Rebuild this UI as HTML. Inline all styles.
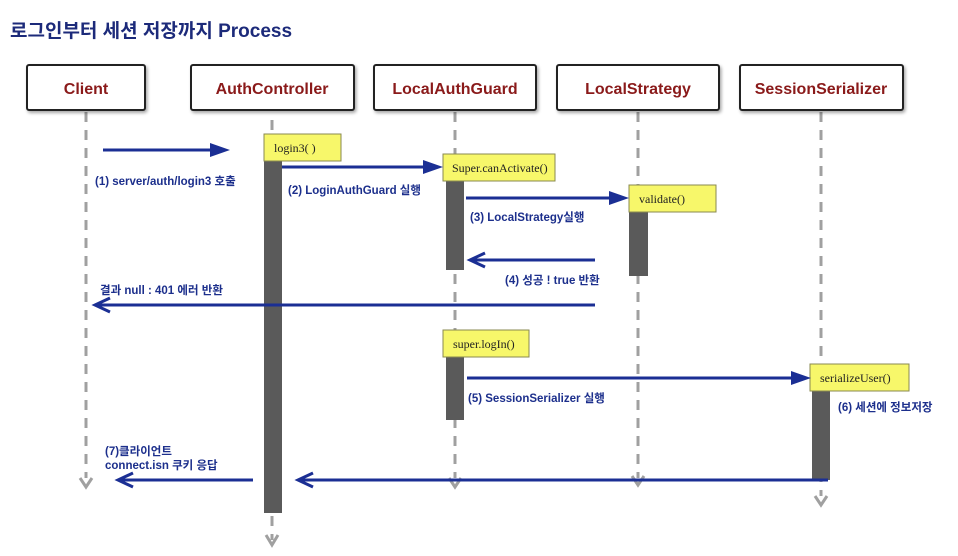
<!DOCTYPE html>
<html><head><meta charset="utf-8"><style>
html,body{margin:0;padding:0;background:#fff;}
svg{display:block;}
text{font-family:"Liberation Sans","Noto Sans CJK KR",sans-serif;}
.lbl{font-size:11.5px;font-weight:bold;fill:#1c2f8c;}
.box{fill:#fff;stroke:#222;stroke-width:2;}
.hd{font-size:16px;font-weight:bold;fill:#8a1a1a;text-anchor:middle;}
.life{stroke:#a0a0a0;stroke-width:3;stroke-dasharray:10,8;fill:none;}
.bar{fill:#5a5a5a;}
.note{fill:#f7f76a;stroke:#8a8a50;stroke-width:1;}
.nt{font-family:"Liberation Serif",serif;font-size:12px;fill:#222;}
.ar{stroke:#1b2f94;stroke-width:3;fill:none;}
</style></head><body>
<svg width="958" height="556" viewBox="0 0 958 556" xmlns="http://www.w3.org/2000/svg">
<defs>
<filter id="sh" x="-10%" y="-10%" width="130%" height="140%"><feDropShadow dx="1.5" dy="2" stdDeviation="1.5" flood-color="#000" flood-opacity="0.35"/></filter>
</defs>
<text x="10" y="37" style="font-size:19px;font-weight:bold;fill:#1c2a7a;">로그인부터 세션 저장까지 Process</text>

<line class="life" x1="86" y1="112" x2="86" y2="478"/>
<line class="life" x1="272" y1="120" x2="272" y2="540"/>
<line class="life" x1="455" y1="112" x2="455" y2="478"/>
<line class="life" x1="638" y1="112" x2="638" y2="478"/>
<line class="life" x1="821" y1="112" x2="821" y2="496"/>
<g stroke="#a0a0a0" stroke-width="3" fill="none">
<polyline points="80,478 86,487 92,478"/>
<polyline points="266,535 272,545 278,535"/>
<polyline points="449,478 455,487 461,478"/>
<polyline points="632,476 638,485 644,476"/>
<polyline points="815,496 821,505 827,496"/>
</g>

<g filter="url(#sh)">
<rect class="box" x="27" y="65" width="118" height="45" rx="2"/>
<rect class="box" x="191" y="65" width="163" height="45" rx="2"/>
<rect class="box" x="374" y="65" width="162" height="45" rx="2"/>
<rect class="box" x="557" y="65" width="162" height="45" rx="2"/>
<rect class="box" x="740" y="65" width="163" height="45" rx="2"/>
</g>
<text class="hd" x="86" y="94">Client</text>
<text class="hd" x="272" y="94">AuthController</text>
<text class="hd" x="455" y="94">LocalAuthGuard</text>
<text class="hd" x="638" y="94">LocalStrategy</text>
<text class="hd" x="821" y="94">SessionSerializer</text>

<rect class="bar" x="264" y="150" width="18" height="363"/>
<rect class="bar" x="446" y="170" width="18" height="100"/>
<rect class="bar" x="629" y="200" width="19" height="76"/>
<rect class="bar" x="446" y="345" width="18" height="75"/>
<rect class="bar" x="812" y="380" width="18" height="100"/>

<rect class="note" x="264" y="134" width="77" height="27"/>
<text class="nt" x="274" y="152">login3( )</text>
<rect class="note" x="443" y="154" width="112" height="27"/>
<text class="nt" x="452" y="172">Super.canActivate()</text>
<rect class="note" x="629" y="185" width="87" height="27"/>
<text class="nt" x="639" y="203">validate()</text>
<rect class="note" x="443" y="330" width="86" height="27"/>
<text class="nt" x="453" y="348">super.logIn()</text>
<rect class="note" x="810" y="364" width="99" height="27"/>
<text class="nt" x="820" y="382">serializeUser()</text>

<line class="ar" x1="103" y1="150" x2="212" y2="150"/>
<polygon points="210,143 230,150 210,157" fill="#1b2f94"/>
<line class="ar" x1="282" y1="167" x2="425" y2="167"/>
<polygon points="423,160 443,167 423,174" fill="#1b2f94"/>
<line class="ar" x1="466" y1="198" x2="611" y2="198"/>
<polygon points="609,191 629,198 609,205" fill="#1b2f94"/>
<line class="ar" x1="595" y1="260" x2="472" y2="260"/>
<polyline points="485,253 470,260 485,267" class="ar"/>
<line class="ar" x1="595" y1="305" x2="97" y2="305"/>
<polyline points="110,298 95,305 110,312" class="ar"/>
<line class="ar" x1="467" y1="378" x2="793" y2="378"/>
<polygon points="791,371 811,378 791,385" fill="#1b2f94"/>
<line class="ar" x1="253" y1="480" x2="120" y2="480"/>
<polyline points="133,473 118,480 133,487" class="ar"/>
<line class="ar" x1="828" y1="480" x2="300" y2="480"/>
<polyline points="313,473 298,480 313,487" class="ar"/>

<text class="lbl" x="95" y="185">(1) server/auth/login3 호출</text>
<text class="lbl" x="288" y="194">(2) LoginAuthGuard 실행</text>
<text class="lbl" x="470" y="221">(3) LocalStrategy실행</text>
<text class="lbl" x="505" y="284">(4) 성공 ! true 반환</text>
<text class="lbl" x="100" y="294">결과 null : 401 에러 반환</text>
<text class="lbl" x="468" y="402">(5) SessionSerializer 실행</text>
<text class="lbl" x="838" y="411">(6) 세션에 정보저장</text>
<text class="lbl" x="105" y="455">(7)클라이언트</text>
<text class="lbl" x="105" y="469">connect.isn 쿠키 응답</text>
</svg>
</body></html>
